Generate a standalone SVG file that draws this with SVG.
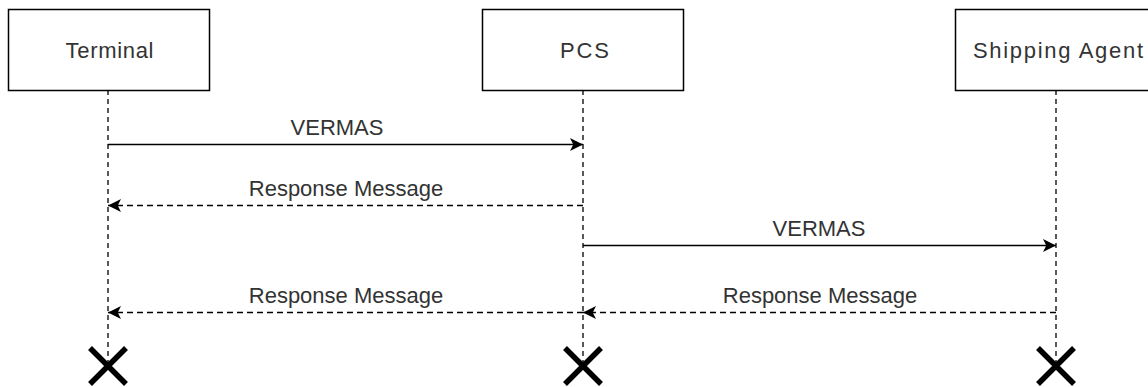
<svg xmlns="http://www.w3.org/2000/svg" width="1148" height="387" viewBox="0 0 1148 387">
<style>
.box{fill:#fff;stroke:#000;stroke-width:1.5}
.t{font-family:"Liberation Sans",Arial,sans-serif;font-size:22px;fill:#333;text-anchor:middle}
.life{stroke:#000;stroke-width:1.3;stroke-dasharray:5 4;fill:none}
.msg{stroke:#000;stroke-width:1.5;fill:none}
.dash{stroke-dasharray:6 4}
.x{stroke:#000;stroke-width:5.5;fill:none}
</style>
<defs>
<marker id="ah" viewBox="0 0 10 10" refX="10" refY="5" markerWidth="13" markerHeight="13" markerUnits="userSpaceOnUse" orient="auto">
<path d="M0,0 L10,5 L0,10 L2.5,5 Z" fill="#000"/>
</marker>
</defs>
<rect width="1148" height="387" fill="#fff"/>
<g id="terminal">
<line class="life" x1="108" y1="90" x2="108" y2="362"/>
<rect class="box" x="8.5" y="9.5" width="201" height="81"/>
<text class="t" x="109.5" y="58" textLength="88" lengthAdjust="spacing">Terminal</text>
<path class="x" d="M90,348 L126,384 M126,348 L90,384"/>
</g>
<g id="pcs">
<line class="life" x1="583" y1="90" x2="583" y2="362"/>
<rect class="box" x="482.5" y="9.5" width="201" height="81"/>
<text class="t" x="584.5" y="58" textLength="49" lengthAdjust="spacing">PCS</text>
<path class="x" d="M565,348 L601,384 M601,348 L565,384"/>
</g>
<g id="shipping">
<line class="life" x1="1056" y1="90" x2="1056" y2="362"/>
<rect class="box" x="955.5" y="9.5" width="201" height="81"/>
<text class="t" x="1058" y="58" textLength="170" lengthAdjust="spacing">Shipping Agent</text>
<path class="x" d="M1038,348 L1074,384 M1074,348 L1038,384"/>
</g>
<g id="connectors">
<line class="msg" x1="108" y1="144.5" x2="583" y2="144.5" marker-end="url(#ah)"/>
<text class="t" x="337" y="135">VERMAS</text>
<line class="msg dash" x1="583" y1="205.5" x2="108" y2="205.5" marker-end="url(#ah)"/>
<text class="t" x="346" y="196">Response Message</text>
<line class="msg" x1="583" y1="245.5" x2="1056" y2="245.5" marker-end="url(#ah)"/>
<text class="t" x="819" y="236">VERMAS</text>
<line class="msg dash" x1="583" y1="312.5" x2="108" y2="312.5" marker-end="url(#ah)"/>
<text class="t" x="346" y="303">Response Message</text>
<line class="msg dash" x1="1056" y1="312.5" x2="583" y2="312.5" marker-end="url(#ah)"/>
<text class="t" x="820" y="303">Response Message</text>
</g>
</svg>
